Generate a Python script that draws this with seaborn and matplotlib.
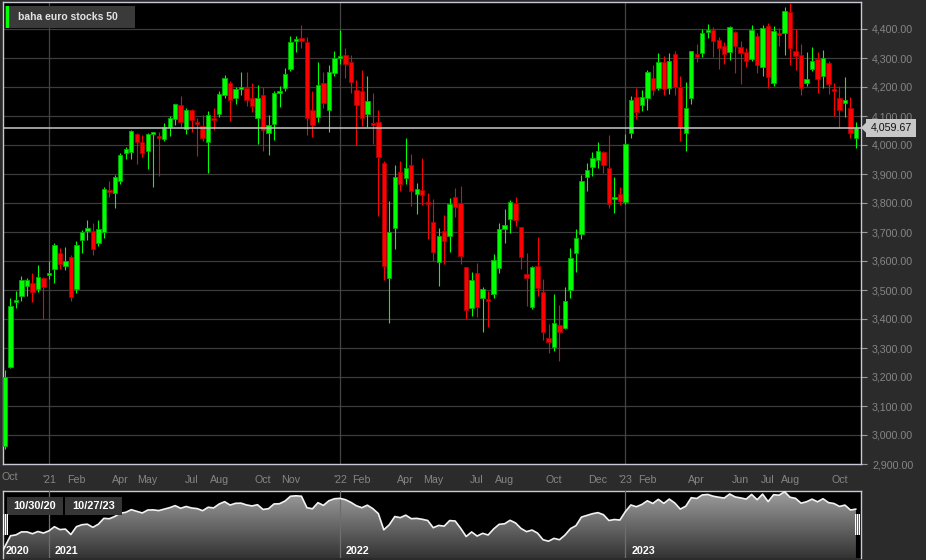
import numpy as np
import pandas as pd
import matplotlib
matplotlib.use("Agg")
import matplotlib.pyplot as plt
import seaborn as sns
from matplotlib.colors import LinearSegmentedColormap
from matplotlib.patches import Rectangle, Polygon
import matplotlib.transforms as mtransforms

# ---------------- data ----------------
title = "baha euro stocks 50"
dates = pd.date_range("2020-10-30", periods=157, freq="7D")

opens = [3195, 2962, 3236, 3457, 3480, 3513, 3525, 3502, 3541, 3552,
         3571, 3628, 3584, 3613, 3502, 3671, 3705, 3702, 3662, 3699,
         3845, 3833, 3877, 3971, 3977, 4038, 4010, 3978, 4038, 4032,
         4021, 4061, 4090, 4139, 4055, 4121, 4080, 4064, 4009, 4092,
         4107, 4171, 4215, 4161, 4194, 4198, 4161, 4092, 4172, 4040,
         4074, 4182, 4195, 4263, 4357, 4369, 4356, 4121, 4095, 4213,
         4120, 4248, 4301, 4310, 4287, 4191, 4185, 4106, 4077, 4080,
         3939, 3540, 3713, 3907, 3885, 3930, 3832, 3844, 3800, 3734,
         3598, 3705, 3687, 3822, 3799, 3578, 3437, 3557, 3471, 3468,
         3487, 3576, 3709, 3744, 3801, 3716, 3554, 3440, 3584, 3494,
         3334, 3305, 3380, 3368, 3500, 3629, 3693, 3889, 3923, 3948,
         3977, 3921, 3814, 3831, 3802, 4040, 4164, 4139, 4162, 4231,
         4197, 4287, 4195, 4314, 4199, 4043, 4162, 4314, 4317, 4392,
         4397, 4362, 4341, 4321, 4391, 4339, 4321, 4298, 4375, 4270,
         4411, 4213, 4386, 4386, 4460, 4325, 4311, 4213, 4261, 4298,
         4239, 4284, 4193, 4163, 4148, 4129, 4024]
highs = [3210, 3224, 3471, 3497, 3549, 3540, 3557, 3586, 3546, 3601,
         3661, 3645, 3648, 3622, 3670, 3706, 3741, 3730, 3740, 3854,
         3876, 3895, 3972, 3992, 4051, 4041, 4034, 4041, 4044, 4044,
         4076, 4099, 4143, 4168, 4128, 4124, 4093, 4105, 4118, 4128,
         4185, 4243, 4222, 4200, 4252, 4253, 4213, 4207, 4199, 4103,
         4187, 4205, 4266, 4376, 4375, 4415, 4374, 4186, 4287, 4253,
         4276, 4324, 4397, 4334, 4310, 4224, 4259, 4238, 4179, 4121,
         3945, 3808, 3931, 3945, 4024, 3969, 3869, 3955, 3834, 3814,
         3713, 3759, 3817, 3851, 3859, 3580, 3561, 3593, 3511, 3498,
         3624, 3731, 3779, 3810, 3821, 3718, 3628, 3584, 3684, 3538,
         3383, 3486, 3449, 3511, 3645, 3710, 3898, 3938, 3975, 4009,
         3979, 4034, 3890, 3854, 4038, 4169, 4195, 4190, 4260, 4276,
         4316, 4308, 4318, 4325, 4238, 4217, 4325, 4348, 4399, 4417,
         4408, 4374, 4354, 4410, 4393, 4357, 4333, 4413, 4386, 4415,
         4421, 4410, 4403, 4477, 4488, 4400, 4348, 4320, 4339, 4320,
         4328, 4291, 4213, 4205, 4236, 4167, 4081]
lows = [2925, 2952, 3230, 3439, 3463, 3480, 3457, 3494, 3400, 3538,
        3523, 3572, 3570, 3461, 3490, 3628, 3672, 3622, 3652, 3679,
        3820, 3783, 3866, 3952, 3952, 3935, 3957, 3917, 3854, 3892,
        4015, 4030, 4070, 4061, 4038, 4046, 3962, 4015, 3903, 4052,
        4097, 4162, 4084, 4141, 4174, 4134, 4115, 4003, 3978, 3964,
        4017, 4130, 4185, 4254, 4320, 4333, 4036, 4026, 4078, 4128,
        4045, 4239, 4279, 4231, 4180, 4001, 4066, 4061, 4003, 3756,
        3535, 3386, 3641, 3843, 3867, 3790, 3762, 3792, 3676, 3601,
        3515, 3590, 3632, 3751, 3590, 3400, 3411, 3408, 3356, 3371,
        3471, 3559, 3662, 3697, 3721, 3572, 3446, 3433, 3480, 3328,
        3284, 3291, 3254, 3366, 3472, 3561, 3675, 3841, 3894, 3921,
        3903, 3782, 3764, 3793, 3797, 4024, 4090, 4118, 4121, 4172,
        4190, 4172, 4176, 4172, 4015, 3980, 4141, 4287, 4302, 4368,
        4302, 4262, 4279, 4293, 4248, 4210, 4268, 4291, 4248, 4237,
        4197, 4205, 4340, 4311, 4277, 4259, 4172, 4205, 4254, 4178,
        4197, 4176, 4101, 4059, 4095, 4023, 3990]
closes = [2958, 3201, 3446, 3467, 3536, 3536, 3494, 3545, 3509, 3559,
          3655, 3589, 3600, 3475, 3655, 3701, 3713, 3641, 3712, 3848,
          3839, 3891, 3967, 3986, 4048, 4009, 3971, 4039, 4043, 4026,
          4061, 4094, 4140, 4080, 4121, 4086, 4072, 4024, 4103, 4088,
          4177, 4231, 4154, 4194, 4197, 4156, 4133, 4162, 4052, 4070,
          4179, 4184, 4246, 4356, 4367, 4357, 4092, 4068, 4208, 4146,
          4253, 4299, 4308, 4278, 4216, 4138, 4093, 4151, 4071, 3957,
          3584, 3701, 3889, 3864, 3921, 3840, 3847, 3826, 3798, 3632,
          3685, 3668, 3797, 3786, 3618, 3430, 3534, 3440, 3503, 3464,
          3603, 3710, 3723, 3803, 3741, 3614, 3542, 3578, 3508, 3356,
          3321, 3387, 3355, 3463, 3610, 3679, 3877, 3915, 3954, 3979,
          3932, 3798, 3821, 3808, 4003, 4155, 4115, 4167, 4252, 4190,
          4285, 4192, 4291, 4201, 4061, 4126, 4323, 4305, 4386, 4397,
          4357, 4334, 4314, 4408, 4340, 4318, 4291, 4398, 4277, 4405,
          4233, 4392, 4380, 4461, 4333, 4308, 4197, 4229, 4290, 4229,
          4299, 4210, 4189, 4122, 4152, 4040, 4059.67]

y_ticks = [2900, 3000, 3100, 3200, 3300, 3400, 3500, 3600, 3700,
           3800, 3900, 4000, 4100, 4200, 4300, 4400]
tick_months = ["2021-01", "2021-02", "2021-04", "2021-05", "2021-07", "2021-08",
               "2021-10", "2021-11", "2022-01", "2022-02", "2022-04", "2022-05",
               "2022-07", "2022-08", "2022-10", "2022-12", "2023-01", "2023-02",
               "2023-04", "2023-06", "2023-07", "2023-08", "2023-10"]
nav_years = [2020, 2021, 2022, 2023]
last_price = closes[-1]

# ---------------- style ----------------
sns.set_style("dark")
plt.rcParams['font.family'] = ['Liberation Sans', 'DejaVu Sans']

BG = "#2b2b2b"
GRID = "#3c3c3c"
SPINE = "#c8c8d6"
LABEL = "#858585"
UP, DOWN = "#00ff00", "#ff0000"
UP_E, DOWN_E = "#00b000", "#b00000"
FS = 7.7

W, H = 926, 560
fig = plt.figure(figsize=(W / 100, H / 100), dpi=100, facecolor=BG)


def fr(x0, y0, x1, y1):
    return [x0 / W, 1 - y1 / H, (x1 - x0) / W, (y1 - y0) / H]


o = np.array(opens, float)
h = np.array(highs, float)
l = np.array(lows, float)
c = np.array(closes, float)
n = len(c)
pos = np.arange(n) - 1  # first (Oct 30) week sits just left of the view
step = 5.49
xlim = (-2 / step, (861 - 5) / step)

# ---------------- main candle chart ----------------
ax = fig.add_axes(fr(3, 2, 861, 464))
ax.set_facecolor("black")
ax.set_xlim(*xlim)
ax.set_ylim(2900, 2900 + 462 / 0.29)

up = c >= o
col = np.where(up, UP, DOWN)
ecol = np.where(up, UP_E, DOWN_E)
body = np.maximum(np.abs(c - o), 7)
mid = (o + c) / 2
ax.vlines(pos, l, h, colors=col, lw=0.8, zorder=3)
ax.bar(pos, body, bottom=mid - body / 2, width=0.8, color=col,
       edgecolor=ecol, linewidth=0.6, zorder=4)

ax.set_yticks(y_ticks)
ax.yaxis.tick_right()
ax.set_yticklabels([f"{v:,.2f}" for v in y_ticks])
ax.grid(axis="y", color=GRID, lw=0.9, zorder=1)
ax.grid(axis="x", visible=False)

# year separators at first candle of each year
year_pos = {}
for yr in nav_years:
    idx = np.where(dates.year == yr)[0][0]
    year_pos[yr] = pos[idx]
for yr in nav_years[1:]:
    ax.axvline(year_pos[yr], color="#444444", lw=0.9, zorder=1)

# month ticks at first candle of month
tpos, tlab = [], []
for m in tick_months:
    ts = pd.Timestamp(m + "-01")
    idx = np.where(dates >= ts)[0][0]
    tpos.append(pos[idx])
    tlab.append("'" + ts.strftime("%y") if ts.month == 1 else ts.strftime("%b"))
ax.set_xticks(tpos)
ax.set_xticklabels(tlab)
ax.tick_params(axis="x", colors="#9a9a9a", labelcolor=LABEL, length=3,
               width=0.8, pad=5, labelsize=FS, direction="out")
ax.tick_params(axis="y", colors="#9a9a9a", labelcolor=LABEL, length=4,
               width=0.8, pad=4, labelsize=FS, direction="out")
for s in ax.spines.values():
    s.set_color(SPINE)
    s.set_linewidth(1.0)
# first month label (October 2020, left of the view)
fig.text(1 / W, 1 - 477 / H, dates[0].strftime("%b"), color=LABEL,
         fontsize=FS, ha="left", va="center")

# last price line and label
ax.axhline(last_price, color="#c8c8c8", lw=1.1, zorder=5)
ax.text(1 + 30 / 858, last_price, f"{last_price:,.2f}",
        transform=ax.get_yaxis_transform(), ha="center", va="center",
        fontsize=FS, color="#111111", clip_on=False, zorder=6,
        bbox=dict(boxstyle="square,pad=0.38", fc="#c8c8c8", ec="none"))
ytr = ax.transData.transform((0, last_price))[1]
yp = 1 - (H - ytr) / H
fig.add_artist(Polygon([[861 / W, yp], [866 / W, yp + 5 / H], [866 / W, yp - 5 / H]],
                       closed=True, transform=fig.transFigure, fc="#c8c8c8",
                       ec="none", zorder=6))

# legend box
fig.add_artist(Rectangle((5 / W, 1 - 28 / H), 130 / W, 22 / H,
                         transform=fig.transFigure,
                         fc="#3a3a3a", ec="none", zorder=7))
fig.add_artist(Rectangle((6 / W, 1 - 28 / H), 3 / W, 22 / H,
                         transform=fig.transFigure, fc=UP, ec="none", zorder=8))
fig.text(18 / W, 1 - 17.5 / H, title, color="#e4e4e4", fontsize=7.5,
         fontweight="bold", ha="left", va="center", zorder=9)

# ---------------- navigator ----------------
nav = fig.add_axes(fr(3, 490.7, 861, 558))
nav.set_facecolor("black")
nav.set_xlim(*xlim)
cmin, cmax = c.min(), c.max()
per_px = (cmax - cmin) / 65.3
lo, hi = cmin - per_px * 1.0, cmax + per_px * 1.0
nav.set_ylim(lo, hi)

poly = nav.fill_between(pos, c, lo, color="none", lw=0)
cmap = LinearSegmentedColormap.from_list("navg", ["#333333", "#a0a0a0"])
grad = np.linspace(1, 0, 256).reshape(-1, 1)
img = nav.imshow(grad, extent=[xlim[0], xlim[1], lo, hi], aspect="auto",
                 cmap=cmap, origin="upper", zorder=2)
img.set_clip_path(poly.get_paths()[0], transform=nav.transData)
sns.lineplot(x=pos, y=c, ax=nav, color="#f2f2f2", lw=1.2, zorder=4)
nav.set_xlim(*xlim)
nav.set_ylim(lo, hi)
nav.set_xticks([])
nav.set_yticks([])
nav.set_xlabel("")
nav.set_ylabel("")
nav.grid(False)
for yr in nav_years[1:]:
    nav.axvline(year_pos[yr], color="#6e6e6e", lw=0.9, zorder=3)
for k, s in nav.spines.items():
    s.set_color(SPINE)
    s.set_linewidth(1.0)
nav.spines["bottom"].set_visible(False)

btr = mtransforms.blended_transform_factory(nav.transData, nav.transAxes)
ytxt = mtransforms.offset_copy(btr, fig=fig, x=6, y=0, units="dots")
for yr in nav_years:
    nav.text(year_pos[yr], 0.11, str(yr), transform=ytxt, color="white",
             fontsize=7.7, fontweight="bold", ha="left", va="center", zorder=6)

# range date boxes
for (x0, x1), d in zip([(7, 63), (65, 122)], [dates[0], dates[-1]]):
    fig.add_artist(Rectangle((x0 / W, 1 - 515 / H), (x1 - x0) / W, 18 / H,
                             transform=fig.transFigure, fc="#363636",
                             ec="none", zorder=7))
    fig.text((x0 + x1) / 2 / W, 1 - 506 / H, d.strftime("%m/%d/%y"),
             color="white", fontsize=7.9, fontweight="bold", ha="center",
             va="center", zorder=8)

# navigator handles
for hx in (3, 855):
    fig.add_artist(Rectangle((hx / W, 1 - 535 / H), 5 / W, 21 / H,
                             transform=fig.transFigure, fc="#6a6a6a",
                             ec="none", zorder=7))
    for dx in (0, 2, 4):
        fig.add_artist(Rectangle(((hx + dx) / W, 1 - 535 / H), 1.2 / W, 21 / H,
                                 transform=fig.transFigure, fc="white",
                                 ec="none", zorder=8))

fig.savefig("out.png", dpi=100, facecolor=BG)
